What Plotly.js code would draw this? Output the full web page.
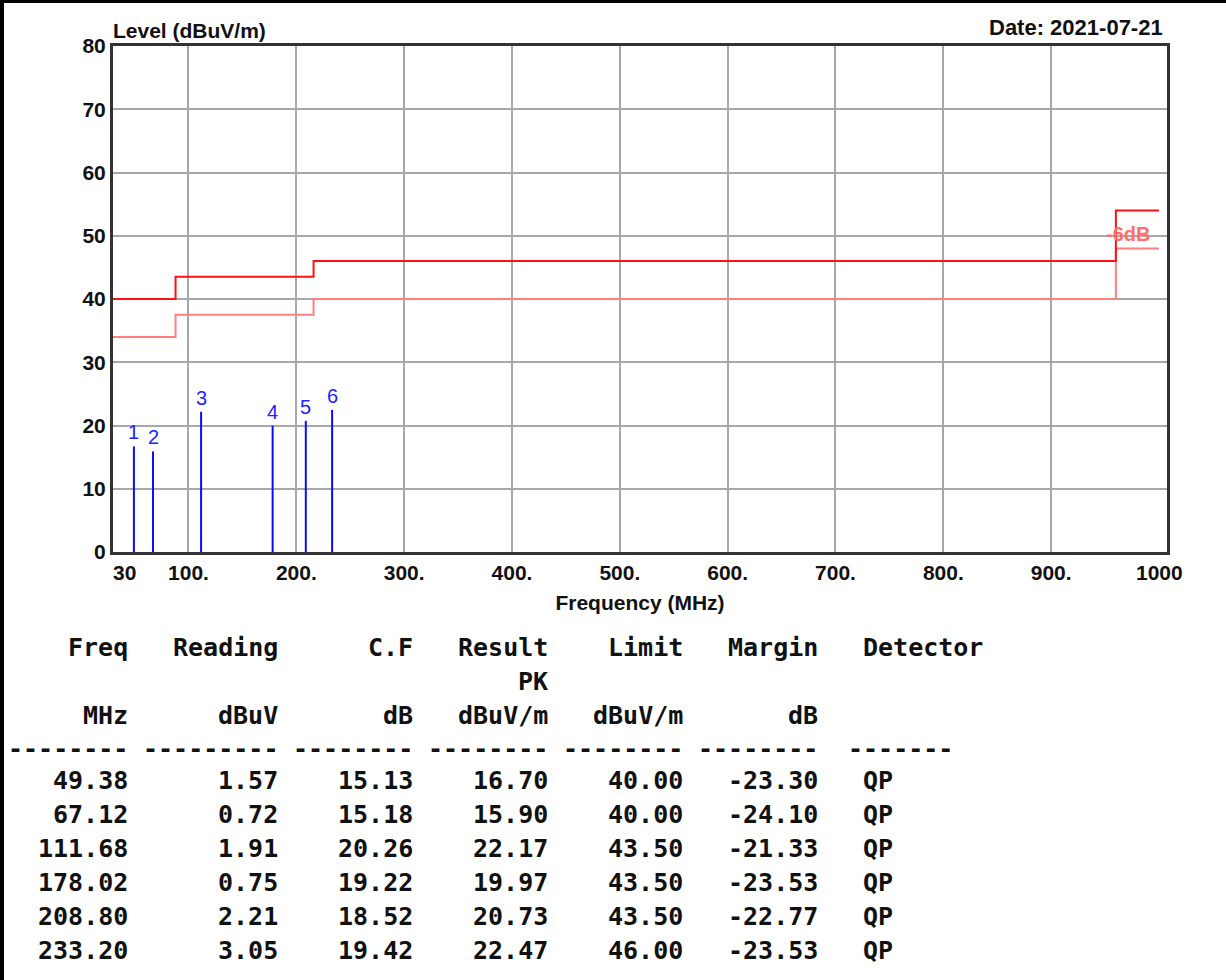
<!DOCTYPE html>
<html>
<head>
<meta charset="utf-8">
<script src="https://cdn.plot.ly/plotly-3.0.1.min.js"></script>
<style>
  html, body { margin: 0; padding: 0; background: #ffffff; }
  #chart { width: 1226px; height: 980px; }
</style>
</head>
<body>
<div id="chart"></div>
<script>
// ---------- data ----------
const freq      = [49.38, 67.12, 111.68, 178.02, 208.80, 233.20];
const reading   = [1.57, 0.72, 1.91, 0.75, 2.21, 3.05];
const cf        = [15.13, 15.18, 20.26, 19.22, 18.52, 19.42];
const result    = [16.70, 15.90, 22.17, 19.97, 20.73, 22.47];
const limitVal  = [40.00, 40.00, 43.50, 43.50, 43.50, 46.00];
const marginVal = [-23.30, -24.10, -21.33, -23.53, -22.77, -23.53];
const detector  = ['QP', 'QP', 'QP', 'QP', 'QP', 'QP'];
const markerLabels = ['1', '2', '3', '4', '5', '6'];

const limitFreq   = [30, 88, 216, 960, 1000];
const limitLevel  = [40, 43.5, 46, 54, 54];
const limit6Level = [34, 37.5, 40, 48, 48];

const xTickVals = [30, 100, 200, 300, 400, 500, 600, 700, 800, 900, 1000];
const xTickText = ['30', '100.', '200.', '300.', '400.', '500.', '600.', '700.', '800.', '900.', '1000'];
const yTickVals = [0, 10, 20, 30, 40, 50, 60, 70, 80];

const head1 = ['Freq', 'Reading', 'C.F', 'Result', 'Limit', 'Margin', 'Detector'];
const head2 = ['', '', '', 'PK', '', '', ''];
const units = ['MHz', 'dBuV', 'dB', 'dBuV/m', 'dBuV/m', 'dB', ''];
const dashLen = [8, 9, 8, 8, 8, 8, 7];

// ---------- geometry (pixels) ----------
const PL = 113, PR = 1167, PT = 46, PB = 552;
const PW = PR - PL, PH = PB - PT;
const px = v => (v - PL) / PW;
const py = v => (PB - v) / PH;

const sansBold = {family: 'Liberation Sans, Arial, sans-serif', size: 21, color: '#111111', weight: 'bold'};
const mono = {family: 'DejaVu Sans Mono, monospace', size: 25, color: '#111111', weight: 'bold'};

// ---------- traces ----------
const mx = [], my = [];
freq.forEach((f, i) => { mx.push(f, f, null); my.push(0, result[i], null); });

const traces = [
  {x: limitFreq, y: limit6Level, type: 'scatter', mode: 'lines',
   line: {shape: 'hv', color: '#ff8080', width: 2}, hoverinfo: 'skip', showlegend: false},
  {x: limitFreq, y: limitLevel, type: 'scatter', mode: 'lines',
   line: {shape: 'hv', color: '#ff1010', width: 2}, hoverinfo: 'skip', showlegend: false},
  {x: mx, y: my, type: 'scatter', mode: 'lines',
   line: {color: '#0a0aff', width: 2}, hoverinfo: 'skip', showlegend: false}
];

// ---------- annotations ----------
const ann = [];
// end tick labels (no grid lines at these two values)
[0, xTickVals.length - 1].forEach(i => {
  ann.push({x: xTickVals[i], xref: 'x', y: 0, yref: 'paper', text: xTickText[i],
    showarrow: false, xanchor: i === 0 ? 'left' : 'center', yanchor: 'middle', yshift: -20.5,
    font: sansBold, borderpad: 0, borderwidth: 0});
});
ann.push({x: 0, xref: 'paper', y: py(31), yref: 'paper', text: 'Level (dBuV/m)', showarrow: false,
  xanchor: 'left', yanchor: 'middle', font: sansBold, borderpad: 0, borderwidth: 0});
ann.push({x: px(1163), xref: 'paper', y: py(28), yref: 'paper', text: 'Date: 2021-07-21', showarrow: false,
  xanchor: 'right', yanchor: 'middle', font: Object.assign({}, sansBold, {size: 22}), borderpad: 0, borderwidth: 0});
ann.push({x: 971, xref: 'x', y: 50, yref: 'y', text: '-6dB', showarrow: false,
  xanchor: 'center', yanchor: 'middle', yshift: 2,
  font: {family: 'Liberation Sans, Arial, sans-serif', size: 20, color: '#ff6f6f', weight: 'bold'},
  borderpad: 0, borderwidth: 0});
freq.forEach((f, i) => {
  ann.push({x: f, xref: 'x', y: result[i], yref: 'y', text: markerLabels[i], showarrow: false,
    xanchor: 'center', yanchor: 'bottom', yshift: 3,
    font: {family: 'Liberation Sans, Arial, sans-serif', size: 20, color: '#2222ff'},
    borderpad: 0, borderwidth: 0});
});

// table
const CH = 15, X0 = 8;
const colEnd = [8, 18, 27, 36, 45, 54];
const detStart = 57;
const dashStart = [0, 9, 19, 28, 37, 46, 56];
const lineY = [647, 681, 715, 748];
const rowY0 = 780.5, rowStep = 34;

function cell(text, charPos, yPix, anchor) {
  if (!text) return;
  ann.push({x: px(X0 + charPos * CH), xref: 'paper', y: py(yPix), yref: 'paper', text: text,
    showarrow: false, xanchor: anchor, yanchor: 'middle', font: mono, borderpad: 0, borderwidth: 0});
}
function rowCells(vals, yPix) {
  for (let c = 0; c < 6; c++) cell(vals[c], colEnd[c], yPix, 'right');
  cell(vals[6], detStart, yPix, 'left');
}
rowCells(head1, lineY[0]);
rowCells(head2, lineY[1]);
rowCells(units, lineY[2]);
dashLen.forEach((n, c) => cell('-'.repeat(n), dashStart[c], lineY[3], 'left'));
freq.forEach((f, i) => {
  rowCells([f.toFixed(2), reading[i].toFixed(2), cf[i].toFixed(2), result[i].toFixed(2),
            limitVal[i].toFixed(2), marginVal[i].toFixed(2), detector[i]], rowY0 + rowStep * i);
});

// outer border (top and left)
const shapes = [
  {type: 'line', xref: 'paper', yref: 'paper', x0: px(0), x1: px(1226), y0: py(1.5), y1: py(1.5),
   line: {color: '#000000', width: 3}},
  {type: 'line', xref: 'paper', yref: 'paper', x0: px(2), x1: px(2), y0: py(980), y1: py(0),
   line: {color: '#000000', width: 4}}
];

const layout = {
  width: 1226, height: 980,
  margin: {l: PL, r: 1226 - PR, t: PT, b: 980 - PB, pad: 0},
  paper_bgcolor: '#ffffff', plot_bgcolor: '#ffffff',
  showlegend: false,
  xaxis: {
    range: [30, 30 + (PR - PL) / ((1159 - 113) / 970)],
    tickmode: 'array', tickvals: xTickVals.slice(1, -1), ticktext: xTickText.slice(1, -1),
    showgrid: true, gridcolor: '#a8a8a8', gridwidth: 2,
    zeroline: false, showline: true, linecolor: '#333333', linewidth: 3, mirror: true,
    ticks: '', ticklabelstandoff: 0, tickfont: sansBold,
    title: {text: 'Frequency (MHz)', font: sansBold, standoff: 13},
    automargin: false, fixedrange: true
  },
  yaxis: {
    range: [0, 80], tickmode: 'array', tickvals: yTickVals,
    showgrid: true, gridcolor: '#a8a8a8', gridwidth: 2,
    zeroline: false, showline: true, linecolor: '#333333', linewidth: 3, mirror: true,
    ticks: '', ticklabelstandoff: 0, tickfont: sansBold,
    automargin: false, fixedrange: true
  },
  annotations: ann,
  shapes: shapes
};

Plotly.newPlot('chart', traces, layout, {displayModeBar: false, staticPlot: true});
</script>
</body>
</html>
